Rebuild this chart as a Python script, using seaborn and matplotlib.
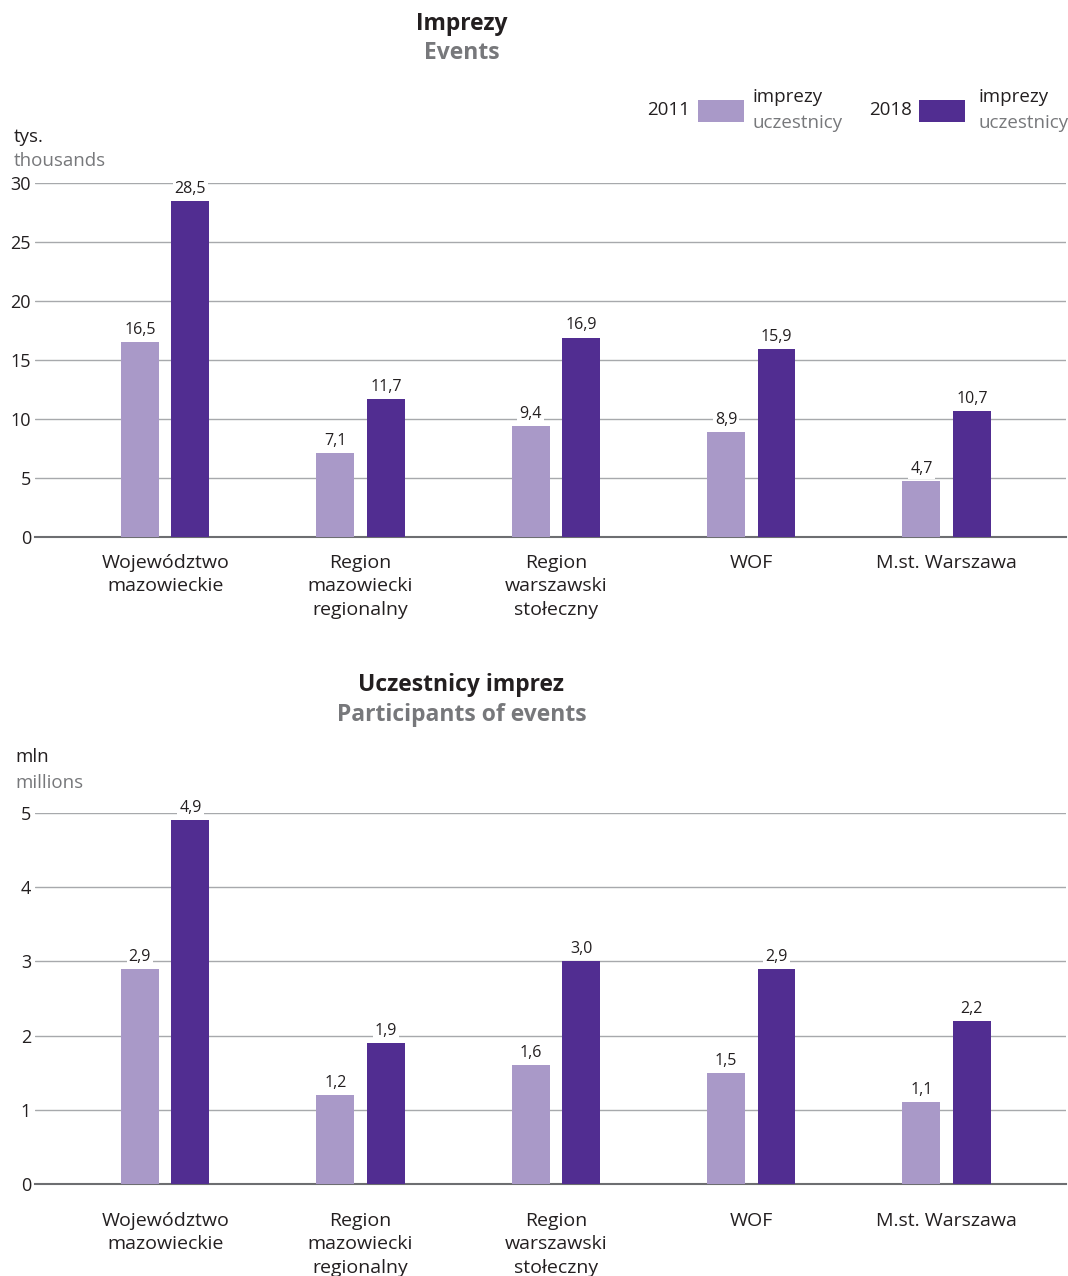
import numpy as np
import pandas as pd
import seaborn as sns
import matplotlib.pyplot as plt
from matplotlib.patches import Rectangle

# -------- data --------
regions = ["Województwo\nmazowieckie", "Region\nmazowiecki\nregionalny",
           "Region\nwarszawski\nstołeczny", "WOF", "M.st. Warszawa"]
years = ["2011", "2018"]
events_2011 = [16.5, 7.1, 9.4, 8.9, 4.7]
events_2018 = [28.5, 11.7, 16.9, 15.9, 10.7]
participants_2011 = [2.9, 1.2, 1.6, 1.5, 1.1]
participants_2018 = [4.9, 1.9, 3.0, 2.9, 2.2]

C_LIGHT = "#a999c8"
C_DARK = "#512d91"
DARK = "#231f20"
GREY = "#77787b"

sns.set_theme(style="white")
plt.rcParams['font.family'] = ['Open Sans', 'DejaVu Sans']

fig = plt.figure(figsize=(10.68, 12.76), dpi=100)


def long_df(v11, v18):
    return pd.DataFrame({
        "region": regions * 2,
        "year": [years[0]] * len(regions) + [years[1]] * len(regions),
        "value": v11 + v18,
    })


def draw(ax, v11, v18, ymax, step, pad):
    df = long_df(v11, v18)
    sns.barplot(data=df, x="region", y="value", hue="year", order=regions,
                hue_order=years, palette=[C_LIGHT, C_DARK], width=0.517,
                gap=0.25, saturation=1, legend=False, ax=ax, zorder=3,
                linewidth=0, edgecolor="none")
    for cont, vals in zip(ax.containers, [v11, v18]):
        ax.bar_label(cont, labels=[f"{v:.1f}".replace(".", ",") for v in vals],
                     padding=3, fontsize=11.5, color=DARK, zorder=5,
                     bbox=dict(facecolor="white", edgecolor="none", pad=1.5))
    ax.set_xlim(-0.665, 4.61)
    ax.set_ylim(0, ymax)
    ax.set_yticks(np.arange(0, ymax + step / 2, step))
    ax.yaxis.grid(True, color="#a7a9ac", linewidth=1, zorder=0)
    ax.set_axisbelow(True)
    for s in ["top", "right", "left"]:
        ax.spines[s].set_visible(False)
    ax.spines["bottom"].set_color("#6d6e71")
    ax.spines["bottom"].set_linewidth(1.5)
    ax.tick_params(axis="y", length=0, pad=3, labelsize=13, labelcolor=DARK)
    ax.tick_params(axis="x", length=0, pad=pad, labelsize=14, labelcolor=DARK)
    for lbl in ax.get_xticklabels():
        lbl.set_linespacing(1.4)
    ax.set_xlabel("")
    ax.set_ylabel("")


ax1 = fig.add_axes([0.033, 0.5792, 0.965, 0.2774])
draw(ax1, events_2011, events_2018, 30, 5, 12)

ax2 = fig.add_axes([0.033, 0.0721, 0.965, 0.2907])
draw(ax2, participants_2011, participants_2018, 5, 1, 20)

# titles
fig.text(0.432, 1 - 24 / 1276, "Imprezy", ha="center", va="center",
         fontsize=16.5, fontweight="bold", color=DARK)
fig.text(0.432, 1 - 53 / 1276, "Events", ha="center", va="center",
         fontsize=16.5, fontweight="bold", color=GREY)
fig.text(0.432, 1 - 685 / 1276, "Uczestnicy imprez", ha="center", va="center",
         fontsize=16.5, fontweight="bold", color=DARK)
fig.text(0.432, 1 - 715 / 1276, "Participants of events", ha="center",
         va="center", fontsize=16.5, fontweight="bold", color=GREY)

# unit labels
fig.text(14 / 1068, 1 - 137 / 1276, "tys.", va="center", fontsize=13.5, color=DARK)
fig.text(14 / 1068, 1 - 161 / 1276, "thousands", va="center", fontsize=13.5, color=GREY)
fig.text(15 / 1068, 1 - 757 / 1276, "mln", va="center", fontsize=13.5, color=DARK)
fig.text(15 / 1068, 1 - 783 / 1276, "millions", va="center", fontsize=13.5, color=GREY)

# legend
for yr, col, xt, xs, xl in [("2011", C_LIGHT, 690, 698, 753),
                            ("2018", C_DARK, 912, 919, 978)]:
    fig.text(xt / 1068, 1 - 110 / 1276, yr, ha="right", va="center",
             fontsize=13.5, color=DARK)
    fig.patches.append(Rectangle((xs / 1068, 1 - 122 / 1276), 46 / 1068,
                                 22 / 1276, transform=fig.transFigure,
                                 facecolor=col, edgecolor="none"))
    fig.text(xl / 1068, 1 - 97 / 1276, "imprezy", va="center",
             fontsize=13.5, color=DARK)
    fig.text(xl / 1068, 1 - 123 / 1276, "uczestnicy", va="center",
             fontsize=13.5, color=GREY)

fig.savefig("out.png", dpi=100, facecolor="white")
